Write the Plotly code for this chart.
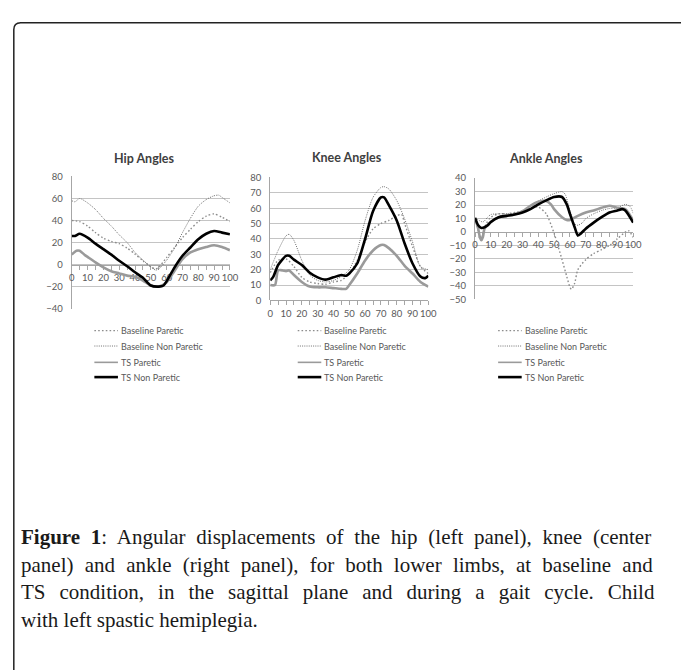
import plotly.graph_objects as go

W, H = 681, 670

SERIES_NAMES = ["Baseline Paretic", "Baseline Non Paretic", "TS Paretic", "TS Non Paretic"]
X_TICKS = [0, 10, 20, 30, 40, 50, 60, 70, 80, 90, 100]
X_MINOR = [5, 15, 25, 35, 45, 55, 65, 75, 85, 95]

# ---------------- Hip ----------------
HIP_BP_X = [0, 5, 10, 15, 20, 25, 30, 35, 40, 45, 50, 53, 55, 60, 65, 70, 75, 80, 85, 90, 95, 100]
HIP_BP_Y = [40, 39, 35, 29, 24, 21, 19, 15, 9.5, 3.5, -2, -4, -2.5, 6.5, 15.5, 24.5, 32, 39, 44, 46, 43, 39]
HIP_BNP_X = [0, 2, 5, 10, 15, 20, 25, 30, 35, 40, 45, 50, 53, 55, 60, 65, 70, 75, 80, 85, 90, 93, 95, 100]
HIP_BNP_Y = [58, 57, 60, 56, 50, 42, 35, 27, 20, 11, 4, -2, -5, -4, 4, 15, 29, 42, 53, 59, 62.5, 63, 61, 56]
HIP_TSP_X = [0, 3, 5, 8, 10, 15, 20, 25, 30, 35, 40, 45, 50, 55, 60, 65, 70, 75, 80, 85, 90, 95, 100]
HIP_TSP_Y = [9, 12.5, 12.5, 9, 7, 2, -2.5, -6, -8, -10, -11, -14.5, -19, -20, -16, -5.5, 5, 11, 14, 16, 17.5, 16, 13]
HIP_TSNP_X = [0, 2, 5, 10, 15, 20, 25, 30, 35, 40, 45, 50, 55, 58, 60, 65, 70, 75, 80, 85, 90, 95, 100]
HIP_TSNP_Y = [26, 26, 28, 24.5, 19, 14, 9, 3.5, -1.5, -7, -12, -19, -20, -19, -15, -2.5, 8, 15.5, 23, 28, 30.5, 29, 27.5]

# ---------------- Knee ----------------
KNEE_BP_X = [0, 5, 10, 15, 20, 25, 30, 35, 40, 45, 50, 55, 60, 65, 70, 75, 80, 83, 85, 90, 95, 100]
KNEE_BP_Y = [18, 26, 27, 22, 15, 12, 11, 10.5, 12, 13, 17.5, 26, 38, 46.5, 50, 52, 55, 56, 50, 35, 22, 17.5]
KNEE_BNP_X = [0, 5, 10, 12, 15, 20, 25, 30, 35, 40, 45, 50, 55, 60, 65, 70, 72, 75, 80, 85, 90, 95, 100]
KNEE_BNP_Y = [20, 32.5, 42, 43, 39, 26, 16.5, 13, 12, 13, 15.5, 20, 32.5, 52, 67, 73.5, 74, 72.5, 65, 53, 38, 22, 20]
KNEE_TSP_X = [0, 3, 5, 8, 10, 12, 15, 20, 25, 30, 35, 40, 45, 48, 50, 55, 60, 65, 70, 72, 75, 80, 85, 90, 95, 100]
KNEE_TSP_Y = [10, 10, 19.5, 19.5, 19, 19.5, 16.5, 12, 9, 8.5, 8.5, 8, 7.5, 7.5, 10, 17.5, 26, 32.5, 36, 36, 34, 29, 22.5, 17.5, 12, 9]
KNEE_TSNP_X = [0, 2, 5, 10, 12, 15, 20, 25, 30, 35, 40, 45, 48, 50, 55, 60, 65, 70, 72, 75, 80, 85, 90, 95, 98, 100]
KNEE_TSNP_Y = [13, 15.5, 23, 29, 29, 26.5, 23, 18, 15, 13.5, 15, 16.5, 16, 17.5, 24, 40, 58, 67, 67, 62, 52, 37, 24, 15.5, 14.5, 16]

# ---------------- Ankle ----------------
ANK_BP_X = [0, 2, 3, 4, 5, 7, 10, 15, 20, 25, 30, 35, 40, 45, 50, 55, 58, 60, 61, 63, 65, 70, 75, 80, 85, 90, 95, 97, 100]
ANK_BP_Y = [10.5, 1, -5, -6, -1, 6, 11, 13.5, 13.5, 14.5, 15.5, 18, 18.5, 13.5, -1, -20.5, -33, -41, -42.5, -38, -28, -20.5, -16, -13, -10, -5, 0, 1, -4]
ANK_BNP_X = [0, 5, 8, 10, 15, 20, 25, 30, 35, 40, 45, 50, 55, 57, 60, 63, 65, 68, 70, 75, 80, 85, 90, 95, 98, 100]
ANK_BNP_Y = [10.5, 7.5, 11, 13, 13.5, 13.5, 14, 15.5, 19.5, 23, 26, 28.5, 30, 28, 16, 6, 5, 7, 10, 13.5, 16, 17.5, 18, 20.5, 19, 14]
ANK_TSP_X = [0, 2, 3, 4, 5, 6, 8, 10, 15, 20, 25, 30, 35, 40, 45, 48, 50, 55, 58, 60, 65, 70, 75, 80, 85, 90, 95, 100]
ANK_TSP_Y = [10.5, 2.5, -3.5, -6, -3.5, 2.5, 5, 7.5, 11, 12, 13, 15.5, 19.5, 22.5, 23, 20.5, 17, 11, 9, 9, 12, 14.5, 16, 18, 19.5, 18, 17, 8.5]
ANK_TSNP_X = [0, 2, 4, 6, 8, 10, 15, 20, 25, 30, 35, 40, 45, 50, 55, 58, 60, 63, 65, 67, 70, 75, 80, 85, 90, 93, 95, 100]
ANK_TSNP_Y = [10.5, 5, 3, 3.5, 5, 7.5, 11, 12, 13, 14.5, 17, 20.5, 23.5, 26, 26, 20.5, 13.5, 3.5, -2.5, -1, 2.5, 7, 11, 14.5, 16, 17, 16, 7]

PANELS = [
    dict(title="Hip Angles", yrange=[-40, 80], dtick=20,
         px_x=(70, 231), px_y=(173.3, 307.7),
         data=[(HIP_BP_X, HIP_BP_Y), (HIP_BNP_X, HIP_BNP_Y), (HIP_TSP_X, HIP_TSP_Y), (HIP_TSNP_X, HIP_TSNP_Y)],
         title_xy=(144, 155), legend_x=(93, 117)),
    dict(title="Knee Angles", yrange=[0, 80], dtick=10,
         px_x=(272, 433), px_y=(174.3, 299.3),
         data=[(KNEE_BP_X, KNEE_BP_Y), (KNEE_BNP_X, KNEE_BNP_Y), (KNEE_TSP_X, KNEE_TSP_Y), (KNEE_TSNP_X, KNEE_TSNP_Y)],
         title_xy=(350, 154), legend_x=(300, 324)),
    dict(title="Ankle Angles", yrange=[-50, 40], dtick=10,
         px_x=(480.5, 641.5), px_y=(175, 298.3),
         data=[(ANK_BP_X, ANK_BP_Y), (ANK_BNP_X, ANK_BNP_Y), (ANK_TSP_X, ANK_TSP_Y), (ANK_TSNP_X, ANK_TSNP_Y)],
         title_xy=(553, 155), legend_x=(504, 528)),
]
LEGEND_ROWS_Y = [330, 345.7, 362.3, 377.3]

STYLES = [
    dict(color="#8c8c8c", width=1.4, dash="1.6px,2.2px"),
    dict(color="#707070", width=1.0, dash="1px,1.2px"),
    dict(color="#9a9a9a", width=2.6, dash="solid"),
    dict(color="#000000", width=2.6, dash="solid"),
]
LEGEND_WIDTHS = [1.3, 1.0, 1.6, 2.6]

FONT = "Lato, 'Open Sans', sans-serif"
TICK_COLOR = "#595959"
GRID = "#c4c4c4"
AXIS = "#a6a6a6"

fig = go.Figure()
layout = dict(autosize=True, margin=dict(l=0, r=0, t=0, b=0),
              paper_bgcolor="white", plot_bgcolor="rgba(0,0,0,0)",
              font=dict(family=FONT, size=9, color=TICK_COLOR), showlegend=False)

annotations = []
shapes = []
for i, p in enumerate(PANELS):
    n = "" if i == 0 else str(i + 1)
    xa, ya = "x" + n, "y" + n
    x0p, x1p = p["px_x"]
    ytop, ybot = p["px_y"]
    ylo, yhi = p["yrange"]
    y0px = ytop + (yhi - 0) / (yhi - ylo) * (ybot - ytop)
    for (xs, ys), name, st in zip(p["data"], SERIES_NAMES, STYLES):
        fig.add_trace(go.Scatter(
            x=xs, y=ys, mode="lines", name=name, xaxis=xa, yaxis=ya,
            line=dict(color=st["color"], width=st["width"], dash=st["dash"],
                      shape="spline", smoothing=0.7),
            hoverinfo="skip"))
    layout["xaxis" + n] = dict(
        domain=[x0p / W, x1p / W], range=[0, 100], anchor="free",
        position=1 - y0px / H, showgrid=False, zeroline=False,
        showline=True, linecolor=AXIS, linewidth=1,
        tickmode="array", tickvals=X_TICKS, ticks="outside", ticklen=4, tickangle=0,
        tickcolor=AXIS, tickfont=dict(family=FONT, size=9.5, color=TICK_COLOR),
        minor=dict(tickvals=X_MINOR, ticks="outside", ticklen=4, tickcolor=AXIS),
        layer="below traces", fixedrange=True)
    layout["yaxis" + n] = dict(
        domain=[1 - ybot / H, 1 - ytop / H], range=p["yrange"], anchor=xa,
        dtick=p["dtick"], tick0=0, showgrid=True, gridcolor=GRID, gridwidth=1,
        zeroline=False, showline=True, linecolor=AXIS, linewidth=1, ticks="",
        ticklabelstandoff=6,
        tickfont=dict(family=FONT, size=9.5, color=TICK_COLOR),
        layer="below traces", fixedrange=True)
    annotations.append(dict(
        text="<b>" + p["title"] + "</b>", x=p["title_xy"][0] / W, y=1 - p["title_xy"][1] / H,
        xref="paper", yref="paper", xanchor="center", yanchor="middle", showarrow=False,
        font=dict(family=FONT, size=12.5, color="#404040")))
    lx0, lx1 = p["legend_x"]
    for name, st, lw, ry in zip(SERIES_NAMES, STYLES, LEGEND_WIDTHS, LEGEND_ROWS_Y):
        shapes.append(dict(type="line", xref="paper", yref="paper",
                           x0=lx0 / W, x1=lx1 / W, y0=1 - ry / H, y1=1 - ry / H,
                           line=dict(color=st["color"], width=lw, dash=st["dash"])))
        annotations.append(dict(
            text=name, x=(lx1 + 1) / W, y=1 - ry / H, xref="paper", yref="paper",
            xanchor="left", yanchor="middle", showarrow=False,
            font=dict(family=FONT, size=9, color=TICK_COLOR)))

CAPTION_LINES = [
    "<b>Figure 1</b>: Angular displacements of the hip (left panel), knee (center",
    "panel) and ankle (right panel), for both lower limbs, at baseline and",
    "TS condition, in the sagittal plane and during a gait cycle. Child",
    "with left spastic hemiplegia.",
]
CAPTION_WORD_SPACING = [5.5, 5.95, 8.75, 0]
CAPTION_Y = [540, 568, 596, 624]
for txt, ws, yy in zip(CAPTION_LINES, CAPTION_WORD_SPACING, CAPTION_Y):
    annotations.append(dict(
        text=f'<span style="word-spacing:{ws}px">{txt}</span>', x=16 / W, y=1 - yy / H,
        xref="paper", yref="paper",
        xanchor="left", yanchor="middle", showarrow=False,
        font=dict(family="'Liberation Serif', 'DejaVu Serif', serif", size=21, color="#1a1a1a")))

bx, by, r = 11, 17, 7
path = (f"M {bx/W},{-0.05} L {bx/W},{1-(by+r)/H} "
        f"Q {bx/W},{1-by/H} {(bx+r)/W},{1-by/H} L 1.05,{1-by/H}")
shapes.append(dict(type="path", path=path, xref="paper", yref="paper",
                   line=dict(color="#222222", width=1.5)))
layout["shapes"] = shapes
layout["annotations"] = annotations
fig.update_layout(**layout)
fig.write_html("out.html", default_width="100vw", default_height="100vh",
               config={"displayModeBar": False, "responsive": True},
               post_script="document.body.style.margin='0';document.body.style.overflow='hidden';")
